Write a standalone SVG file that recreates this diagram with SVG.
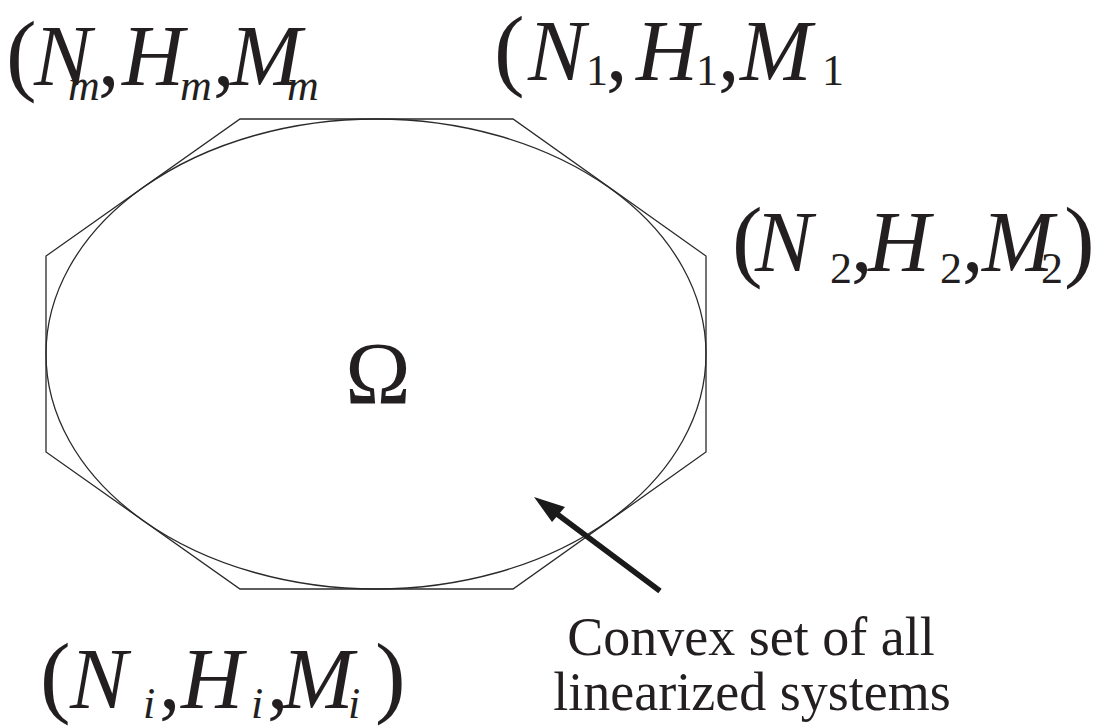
<svg xmlns="http://www.w3.org/2000/svg" width="1096" height="726" viewBox="0 0 1096 726">
<style>
.shape{fill:none;stroke:#2a2a2a;stroke-width:1.3}
.m{font-family:"Liberation Serif","Times New Roman",serif;font-size:86px;fill:#231f20}
.p{font-size:92px}
.it{font-style:italic}
.sub{font-size:44px}
.lbl{font-family:"Liberation Serif","Times New Roman",serif;font-size:54px;fill:#231f20;text-anchor:middle}
</style>
<rect width="1096" height="726" fill="#fff"/>
<g id="octagon">
<polygon class="shape" points="240,119 513,119 706,256 706,452 513,589 240,589 46,452 46,256"/>
</g>
<g id="omega-set">
<ellipse class="shape" cx="376" cy="354" rx="330" ry="235"/>
<text class="m" x="378" y="403" text-anchor="middle" style="font-size:88px">Ω</text>
</g>
<g id="vertex-m">
<text class="m"><tspan class="p" x="6" y="84">(</tspan><tspan class="it" x="34" y="85">N</tspan><tspan class="it sub" x="68" y="100">m</tspan><tspan x="98" y="85">,</tspan><tspan class="it" x="122" y="85">H</tspan><tspan class="it sub" x="180" y="100">m</tspan><tspan x="213" y="85">,</tspan><tspan class="it" x="230" y="85">M</tspan><tspan class="it sub" x="287" y="100">m</tspan></text>
</g>
<g id="vertex-1">
<text class="m"><tspan class="p" x="494" y="79">(</tspan><tspan class="it" x="528" y="80">N</tspan><tspan class="sub" x="586" y="85">1</tspan><tspan x="606" y="80">,</tspan><tspan class="it" x="636" y="80">H</tspan><tspan class="sub" x="696" y="85">1</tspan><tspan x="718" y="80">,</tspan><tspan class="it" x="740" y="80">M</tspan><tspan class="sub" x="822" y="85">1</tspan></text>
</g>
<g id="vertex-2">
<text class="m"><tspan class="p" x="732" y="270">(</tspan><tspan class="it" x="755" y="271">N</tspan><tspan class="sub" x="830" y="283">2</tspan><tspan x="851" y="271">,</tspan><tspan class="it" x="868" y="271">H</tspan><tspan class="sub" x="940" y="283">2</tspan><tspan x="962" y="271">,</tspan><tspan class="it" x="982" y="271">M</tspan><tspan class="sub" x="1041" y="283">2</tspan><tspan class="p" x="1064" y="270">)</tspan></text>
</g>
<g id="vertex-i">
<text class="m"><tspan class="p" x="40" y="706">(</tspan><tspan class="it" x="70" y="708">N</tspan><tspan class="it sub" x="143" y="718">i</tspan><tspan x="159" y="708">,</tspan><tspan class="it" x="181" y="708">H</tspan><tspan class="it sub" x="251" y="718">i</tspan><tspan x="267" y="708">,</tspan><tspan class="it" x="282" y="708">M</tspan><tspan class="it sub" x="348" y="718">i</tspan><tspan class="p" x="375" y="706">)</tspan></text>
</g>
<g id="caption">
<text class="lbl" x="751" y="655">Convex set of all</text>
<text class="lbl" x="752" y="710">linearized systems</text>
</g>
<g id="connectors">
<line x1="660" y1="591" x2="553" y2="511" stroke="#1a1a1a" stroke-width="5.5"/>
<polygon points="534,497 565,507 552,522" fill="#1a1a1a"/>
</g>
</svg>
